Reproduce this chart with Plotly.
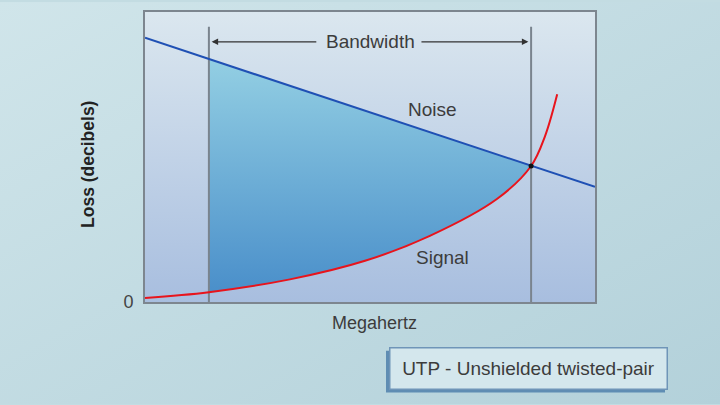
import base64
import plotly.graph_objects as go

# ---- data (conceptual units, 0..100 on both axes) ----
x_range = [0, 100]
y_range = [0, 100]

noise_x = [0, 100]
noise_y = [91.1, 39.7]

signal_x = [0, 14.2, 32.2, 48.9, 63.3, 78.2, 85.8, 88.9, 91.6]
signal_y = [1.4, 3.4, 7.8, 14.2, 22.8, 35.5, 46.9, 57.2, 71.6]

band_lo, band_hi = 14.2, 85.8
band_top = 94.9
cross_x = [85.8]
cross_y = [46.9]

def noise_at(x):
    return noise_y[0] + (noise_y[1] - noise_y[0]) * (x - noise_x[0]) / (noise_x[1] - noise_x[0])

fig = go.Figure()

# plot-area gradient background
fig.add_trace(go.Scatter(
    x=[x_range[0], x_range[1], x_range[1], x_range[0], x_range[0]],
    y=[y_range[0], y_range[0], y_range[1], y_range[1], y_range[0]],
    mode="lines", line=dict(width=0), fill="toself",
    fillgradient=dict(type="vertical", colorscale=[[0, "#a8bedf"], [1, "#dbe7ef"]]),
    hoverinfo="skip", showlegend=False))

# bandwidth fill: noise (upper) then signal (lower, tonexty)
fig.add_trace(go.Scatter(
    x=[band_lo, band_hi], y=[noise_at(band_lo), noise_at(band_hi)],
    mode="lines", line=dict(width=0), hoverinfo="skip", showlegend=False))
seg_x = [v for v in signal_x if band_lo <= v <= band_hi]
seg_y = [signal_y[i] for i, v in enumerate(signal_x) if band_lo <= v <= band_hi]
fig.add_trace(go.Scatter(
    x=seg_x, y=seg_y, mode="lines", line=dict(width=0, shape="spline"),
    fill="tonexty",
    fillgradient=dict(type="vertical", colorscale=[[0, "#4a8fca"], [1, "#93cfe3"]]),
    hoverinfo="skip", showlegend=False))

# vertical bandwidth lines
for bx in (band_lo, band_hi):
    fig.add_trace(go.Scatter(x=[bx, bx], y=[0, band_top], mode="lines",
                             line=dict(color="#7a848e", width=2),
                             hoverinfo="skip", showlegend=False))

# noise line
fig.add_trace(go.Scatter(x=noise_x, y=noise_y, mode="lines",
                         line=dict(color="#1f50b4", width=2), showlegend=False))
# signal curve
fig.add_trace(go.Scatter(x=signal_x, y=signal_y, mode="lines",
                         line=dict(color="#e8141c", width=2, shape="spline"),
                         showlegend=False))
# intersection dot
fig.add_trace(go.Scatter(x=cross_x, y=cross_y, mode="markers",
                         marker=dict(color="#111", size=5), showlegend=False))

txt = "#3c3c3c"
font = "Liberation Sans, Arial, sans-serif"

def px_x(p):
    return (p - 145) / 450
def px_y(p):
    return (302 - p) / 292

ann = []
arrow_y = 89.7
ann.append(dict(x=band_lo + 0.6, y=arrow_y, ax=38.4, ay=arrow_y, xref="x", yref="y",
                axref="x", ayref="y", text="", showarrow=True, arrowhead=2,
                arrowsize=1, arrowwidth=1.3, arrowcolor="#333"))
ann.append(dict(x=band_hi - 0.6, y=arrow_y, ax=61.1, ay=arrow_y, xref="x", yref="y",
                axref="x", ayref="y", text="", showarrow=True, arrowhead=2,
                arrowsize=1, arrowwidth=1.3, arrowcolor="#333"))
center = dict(xanchor="center", yanchor="middle", showarrow=False)
ann.append(dict(center, x=(band_lo + band_hi) / 2, y=arrow_y, xref="x", yref="y",
                text="Bandwidth", font=dict(family=font, size=19, color=txt)))
ann.append(dict(center, x=63.8, y=66.4, xref="x", yref="y", text="Noise",
                font=dict(family=font, size=19, color=txt)))
ann.append(dict(center, x=66.2, y=15.4, xref="x", yref="y", text="Signal",
                font=dict(family=font, size=19, color=txt)))
ann.append(dict(center, x=px_x(374), y=px_y(323), xref="paper", yref="paper",
                text="Megahertz", font=dict(family=font, size=18, color=txt)))
ann.append(dict(center, x=px_x(88), y=px_y(164), xref="paper", yref="paper",
                text="<b>Loss (decibels)</b>", textangle=-90,
                font=dict(family=font, size=17.5, color="#222")))
ann.append(dict(center, x=px_x(528), y=px_y(369), xref="paper", yref="paper",
                text="UTP - Unshielded twisted-pair",
                width=272, height=36, bgcolor="#d4e7ed", bordercolor="#6f95b8",
                borderwidth=1.5, borderpad=2,
                font=dict(family=font, size=19, color=txt)))

shapes = [dict(type="rect", xref="paper", yref="paper",
               x0=px_x(386), x1=px_x(665), y0=px_y(393), y1=px_y(351),
               fillcolor="#5f8db3", line=dict(width=0), layer="below")]

# page background gradient (SVG data URI)
svg = ('<svg xmlns="http://www.w3.org/2000/svg" width="720" height="405">'
       '<defs><linearGradient id="g" x1="0" y1="0" x2="1" y2="1">'
       '<stop offset="0" stop-color="#d0e5ea"/><stop offset="1" stop-color="#b3d1da"/>'
       '</linearGradient></defs><rect width="720" height="405" fill="url(#g)"/></svg>')
bg_src = "data:image/svg+xml;base64," + base64.b64encode(svg.encode()).decode()
images = [dict(source=bg_src, xref="paper", yref="paper", x=px_x(0), y=px_y(0),
               sizex=720 / 450, sizey=405 / 292, xanchor="left", yanchor="top",
               sizing="stretch", layer="below")]

axis_common = dict(range=x_range, showgrid=False, zeroline=False, showline=True,
                   linecolor="#7d868f", linewidth=2, mirror=True, fixedrange=True)
fig.update_layout(
    width=720, height=405,
    margin=dict(l=145, r=125, t=10, b=103),
    paper_bgcolor="#c3dce2", plot_bgcolor="rgba(0,0,0,0)",
    xaxis=dict(axis_common, showticklabels=False, ticks=""),
    yaxis=dict(axis_common, range=y_range, tickmode="array", tickvals=[0], ticktext=["0"],
               ticks="", ticklabelstandoff=6,
               tickfont=dict(family=font, size=18, color="#444")),
    annotations=ann, shapes=shapes, images=images, showlegend=False,
    hovermode=False)

fig.write_html("out.html", config={"displayModeBar": False},
               post_script="document.body.style.margin='0';")
